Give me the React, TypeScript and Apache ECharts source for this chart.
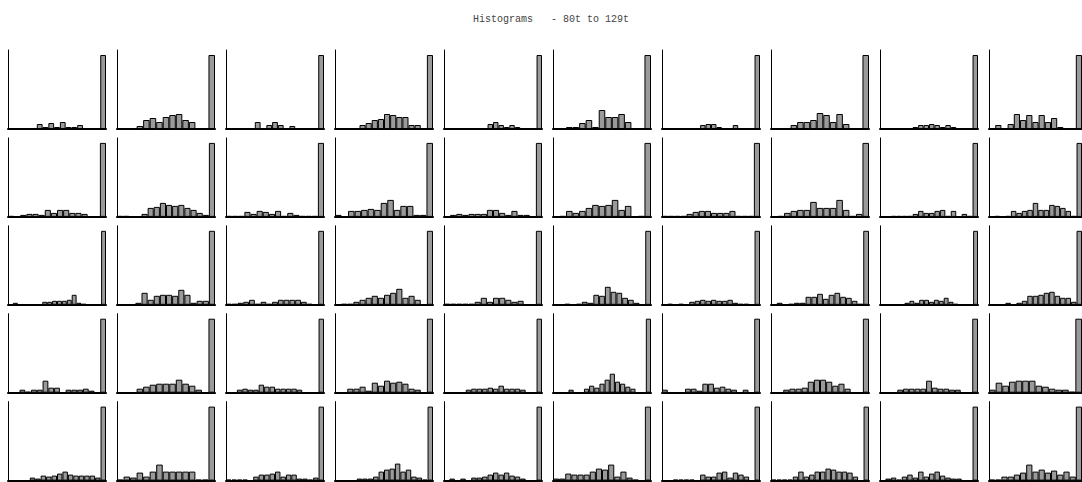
import React, { useEffect, useRef } from "react";
import * as echarts from "echarts";

const TITLE = "Histograms   - 80t to 129t";

// Row 1
const t80 = [0, 0, 0, 0, 0, 5, 2, 6, 2, 7, 2, 2, 4, 0, 0, 0, 74];
const t81 = [0, 0, 0, 3, 9, 11, 7, 12, 14, 15, 9, 7, 0, 0, 74];
const t82 = [0, 0, 0, 0, 0, 7, 1, 4, 7, 4, 1, 3, 0, 0, 0, 0, 74];
const t83 = [0, 0, 0, 0, 4, 6, 9, 10, 15, 14, 12, 12, 4, 4, 0, 74];
const t84 = [0, 0, 0, 0, 0, 0, 0, 0, 5, 7, 4, 2, 4, 2, 0, 0, 0, 74];
const t85 = [0, 0, 2, 2, 6, 9, 2, 19, 12, 12, 15, 7, 0, 0, 74];
const t86 = [0, 0, 0, 0, 0, 0, 0, 4, 5, 5, 2, 0, 0, 4, 0, 0, 0, 74];
const t87 = [0, 0, 0, 4, 7, 7, 9, 16, 14, 7, 15, 5, 0, 0, 74];
const t88 = [0, 0, 0, 0, 0, 0, 2, 4, 4, 5, 4, 2, 4, 2, 0, 0, 0, 74];
const t89 = [0, 4, 0, 5, 15, 9, 14, 7, 14, 7, 11, 2, 0, 0, 74];
// Row 2
const t90 = [1, 0, 2, 3, 3, 2, 7, 4, 7, 7, 4, 4, 3, 0, 0, 74];
const t91 = [1, 1, 0, 0, 3, 9, 10, 14, 12, 11, 12, 9, 7, 4, 2, 74];
const t92 = [1, 1, 1, 5, 3, 6, 5, 3, 6, 1, 4, 2, 1, 1, 1, 74];
const t93 = [2, 0, 6, 6, 7, 8, 7, 14, 17, 7, 11, 11, 2, 2, 74];
const t94 = [0, 2, 3, 2, 3, 3, 3, 7, 7, 4, 2, 6, 2, 2, 0, 74];
const t95 = [0, 1, 6, 4, 6, 9, 12, 11, 12, 17, 7, 11, 0, 1, 74];
const t96 = [1, 1, 1, 1, 3, 5, 6, 6, 4, 4, 4, 6, 1, 1, 1, 74];
const t97 = [0, 1, 4, 6, 7, 7, 15, 9, 9, 9, 17, 7, 1, 3, 74];
const t98 = [0, 0, 1, 1, 1, 1, 3, 6, 4, 4, 6, 7, 1, 6, 0, 3, 1, 74];
const t99 = [0, 1, 0, 1, 6, 4, 6, 7, 14, 7, 7, 12, 11, 9, 6, 1, 74];
// Row 3
const t100 = [0, 2, 0, 0, 0, 0, 0, 3, 3, 4, 4, 4, 5, 10, 2, 1, 0, 0, 0, 74];
const t101 = [0, 0, 0, 2, 12, 5, 9, 10, 10, 9, 15, 10, 2, 4, 4, 74];
const t102 = [1, 1, 2, 3, 5, 1, 3, 1, 3, 5, 5, 5, 5, 3, 1, 0, 74];
const t103 = [0, 1, 1, 3, 5, 7, 9, 7, 10, 12, 16, 7, 9, 5, 0, 74];
const t104 = [1, 1, 1, 1, 1, 3, 7, 3, 7, 7, 5, 3, 4, 0, 0, 74];
const t105 = [0, 0, 1, 0, 1, 3, 2, 10, 9, 18, 13, 12, 7, 5, 2, 0, 74];
const t106 = [0, 1, 0, 1, 0, 3, 4, 5, 4, 5, 4, 4, 5, 2, 1, 1, 0, 74];
const t107 = [0, 2, 0, 1, 2, 2, 8, 8, 11, 6, 10, 12, 8, 7, 4, 1, 74];
const t108 = [0, 0, 0, 0, 0, 2, 4, 2, 5, 5, 3, 5, 4, 7, 3, 1, 0, 0, 0, 74];
const t109 = [0, 0, 0, 2, 0, 2, 4, 9, 9, 10, 12, 13, 9, 7, 7, 3, 74];
// Row 4
const t110 = [0, 0, 3, 1, 3, 3, 12, 5, 5, 0, 3, 3, 3, 4, 2, 0, 74];
const t111 = [0, 0, 0, 4, 6, 8, 9, 9, 9, 13, 9, 7, 3, 0, 74];
const t112 = [0, 0, 3, 4, 3, 3, 8, 6, 6, 4, 4, 4, 4, 3, 0, 0, 0, 74];
const t113 = [0, 0, 4, 4, 6, 2, 10, 7, 12, 10, 11, 9, 4, 3, 0, 74];
const t114 = [0, 0, 0, 0, 3, 4, 4, 4, 5, 4, 7, 4, 4, 4, 3, 0, 0, 74];
const t115 = [0, 0, 0, 3, 0, 0, 4, 7, 5, 9, 13, 19, 11, 9, 6, 4, 0, 0, 74];
const t116 = [3, 0, 0, 0, 4, 4, 2, 9, 9, 5, 6, 4, 3, 0, 3, 0, 74];
const t117 = [0, 0, 3, 4, 4, 5, 11, 13, 13, 11, 7, 9, 4, 0, 0, 74];
const t118 = [0, 0, 0, 3, 4, 4, 4, 4, 12, 5, 4, 4, 3, 3, 0, 0, 74];
const t119 = [3, 10, 7, 11, 12, 12, 12, 7, 6, 4, 3, 3, 1, 74];
// Row 5
const t120 = [0, 0, 0, 0, 3, 2, 5, 4, 5, 7, 9, 6, 5, 5, 5, 5, 3, 74];
const t121 = [1, 4, 3, 8, 4, 9, 16, 9, 9, 9, 9, 9, 1, 1, 74];
const t122 = [1, 1, 1, 1, 0, 4, 6, 6, 7, 9, 4, 6, 6, 2, 2, 1, 3, 74];
const t123 = [0, 0, 0, 0, 2, 2, 2, 4, 9, 11, 12, 17, 9, 11, 4, 3, 1, 74];
const t124 = [0, 2, 0, 2, 0, 3, 3, 4, 6, 8, 6, 8, 5, 4, 2, 0, 0, 74];
const t125 = [2, 2, 7, 6, 6, 6, 9, 12, 11, 16, 4, 9, 3, 1, 0, 74];
const t126 = [0, 0, 1, 1, 1, 1, 0, 6, 4, 4, 8, 9, 3, 8, 6, 4, 0, 74];
const t127 = [1, 1, 1, 1, 4, 9, 4, 6, 9, 9, 12, 11, 9, 9, 8, 4, 0, 74];
const t128 = [0, 2, 3, 1, 4, 6, 3, 9, 4, 7, 9, 5, 3, 2, 2, 0, 0, 74];
const t129 = [1, 1, 4, 4, 6, 8, 16, 9, 11, 8, 10, 6, 9, 4, 74];

const HISTOGRAMS = [
  t80, t81, t82, t83, t84, t85, t86, t87, t88, t89,
  t90, t91, t92, t93, t94, t95, t96, t97, t98, t99,
  t100, t101, t102, t103, t104, t105, t106, t107, t108, t109,
  t110, t111, t112, t113, t114, t115, t116, t117, t118, t119,
  t120, t121, t122, t123, t124, t125, t126, t127, t128, t129,
];

const Y_MAX = 79;
const COLS = 10;

export default function App() {
  const ref = useRef<HTMLDivElement>(null);
  useEffect(() => {
    if (!ref.current) return;
    const chart = echarts.init(ref.current, undefined, { renderer: "svg" });
    const grid: any[] = [];
    const xAxis: any[] = [];
    const yAxis: any[] = [];
    const series: any[] = [];
    HISTOGRAMS.forEach((vals, i) => {
      const r = Math.floor(i / COLS);
      const c = i % COLS;
      const baseline = 129 + 87.9 * r;
      grid.push({ left: 8 + 109 * c, top: baseline - 79, width: 98, height: 79 });
      xAxis.push({
        type: "category",
        gridIndex: i,
        data: vals.map((_, k) => String(k)),
        axisLine: { show: true, lineStyle: { color: "#000", width: 2 } },
        axisTick: { show: false },
        axisLabel: { show: false },
        splitLine: { show: false },
      });
      yAxis.push({
        type: "value",
        gridIndex: i,
        min: 0,
        max: Y_MAX,
        axisLine: { show: true, lineStyle: { color: "#000", width: 1 } },
        axisTick: { show: false },
        axisLabel: { show: false },
        splitLine: { show: false },
      });
      series.push({
        type: "bar",
        name: `${80 + i}t`,
        xAxisIndex: i,
        yAxisIndex: i,
        data: vals,
        barCategoryGap: "0%",
        silent: true,
        itemStyle: { color: "#9a9a9a", borderColor: "#000", borderWidth: 1 },
      });
    });
    chart.setOption({
      animation: false,
      backgroundColor: "#fff",
      title: {
        text: TITLE,
        left: 468,
        top: 9,
        textStyle: { fontFamily: "Liberation Mono", fontSize: 10, fontWeight: "normal", color: "#444" },
      },
      grid,
      xAxis,
      yAxis,
      series,
    });
    return () => chart.dispose();
  }, []);
  return (
    <div
      ref={ref}
      style={{ position: "absolute", left: 0, top: 0, width: 1082, height: 482 }}
    />
  );
}
